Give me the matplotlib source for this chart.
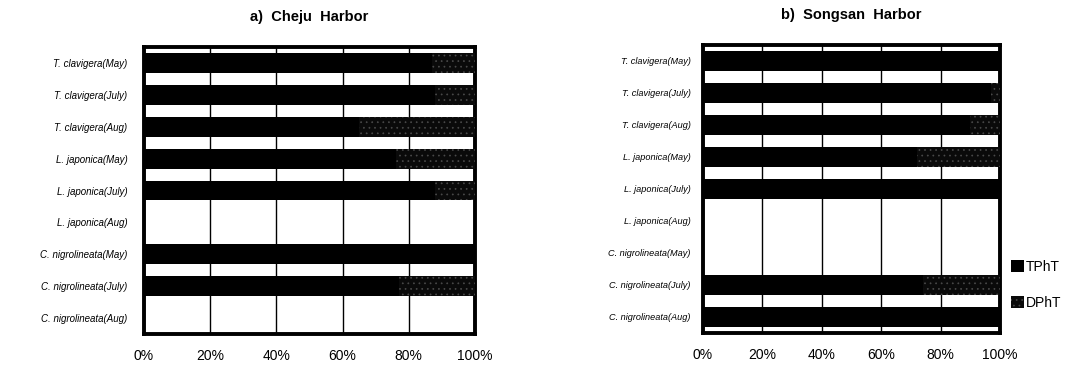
import matplotlib
matplotlib.use("Agg")
import matplotlib.pyplot as plt
import numpy as np

plt.rcParams['font.family'] = ['Liberation Sans', 'DejaVu Sans']
plt.rcParams['hatch.linewidth'] = 0.5

categories = [
    "T. clavigera(May)", "T. clavigera(July)", "T. clavigera(Aug)",
    "L. japonica(May)", "L. japonica(July)", "L. japonica(Aug)",
    "C. nigrolineata(May)", "C. nigrolineata(July)", "C. nigrolineata(Aug)",
]

# Share (%) of TPhT and DPhT per sample; zero rows had no detectable residues
cheju_tpht = [87, 88, 65, 76, 88, 0, 100, 77, 0]
cheju_dpht = [13, 12, 35, 24, 12, 0, 0, 23, 0]

songsan_tpht = [100, 97, 90, 72, 100, 0, 0, 74, 100]
songsan_dpht = [0, 3, 10, 28, 0, 0, 0, 26, 0]

x_ticks = [0, 20, 40, 60, 80, 100]
x_ticklabels = ["0%", "20%", "40%", "60%", "80%", "100%"]

titles = ["a)  Cheju  Harbor", "b)  Songsan  Harbor"]

fig = plt.figure(figsize=(10.69, 3.65), dpi=100)
ax1 = fig.add_axes([0.1347, 0.0849, 0.3096, 0.7863])
ax2 = fig.add_axes([0.6576, 0.0877, 0.2779, 0.7893])

def draw(ax, tpht, dpht, title, label_pad, label_size):
    y = np.arange(len(categories))
    ax.barh(y, tpht, height=0.62, color="black", edgecolor="black",
            linewidth=0, label="TPhT", zorder=3)
    ax.barh(y, dpht, left=tpht, height=0.62, color="#0a0a0a",
            edgecolor="#4a4a4a", hatch="...", linewidth=0,
            label="DPhT", zorder=3)
    ax.set_xlim(0, 100)
    ax.set_ylim(len(categories) - 0.5, -0.5)
    ax.set_xticks(x_ticks)
    ax.set_xticklabels(x_ticklabels, fontsize=10)
    ax.set_yticks(y)
    ax.set_yticklabels(categories, fontsize=label_size, style="italic")
    ax.tick_params(axis="y", length=0, pad=label_pad)
    ax.tick_params(axis="x", length=0, pad=11)
    ax.grid(axis="x", color="black", linewidth=1.0, zorder=1)
    for s in ax.spines.values():
        s.set_linewidth(2.8)
        s.set_color("black")
    ax.set_title(title, fontsize=10.5, fontweight="bold", pad=19)

draw(ax1, cheju_tpht, cheju_dpht, titles[0], 12, 7)
draw(ax2, songsan_tpht, songsan_dpht, titles[1], 9, 6.6)

handles, labels = ax2.get_legend_handles_labels()
fig.legend(handles, labels, loc="center left", bbox_to_anchor=(0.9395, 0.22),
           frameon=False, fontsize=10, handlelength=0.9, handleheight=0.9,
           handletextpad=0.15, labelspacing=1.6, borderpad=0)

fig.savefig("out.png", dpi=100)
